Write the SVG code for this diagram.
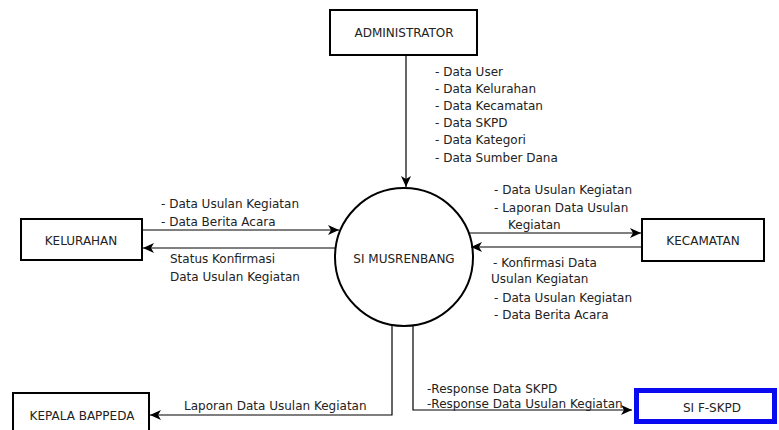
<svg xmlns="http://www.w3.org/2000/svg" width="779" height="430" viewBox="0 0 779 430">
<defs>
<marker id="ah" markerWidth="12" markerHeight="10" refX="11" refY="5" orient="auto" markerUnits="userSpaceOnUse">
<path d="M0,0 L11,5 L0,10 L3,5 Z" fill="#000"/>
</marker>
<style>
text{font-family:"DejaVu Sans",Verdana,sans-serif;font-size:12px;fill:#222}
.c{text-anchor:middle}
.box{fill:#fff;stroke:#000;stroke-width:2}
.ln{fill:none;stroke:#000;stroke-width:1.2}
</style>
</defs>
<rect width="779" height="430" fill="#fff"/>
<g id="connectors">
<path class="ln" d="M406,55 V187" marker-end="url(#ah)"/>
<path class="ln" d="M142,230 H339" marker-end="url(#ah)"/>
<path class="ln" d="M336,248 H143" marker-end="url(#ah)"/>
<path class="ln" d="M469,233 H641" marker-end="url(#ah)"/>
<path class="ln" d="M642,247 H471" marker-end="url(#ah)"/>
<path class="ln" d="M392,325 V415 H150" marker-end="url(#ah)"/>
<path class="ln" d="M413,325 V410 H632" marker-end="url(#ah)"/>
<g id="labels">
<text x="435" y="76">- Data User</text>
<text x="435" y="93">- Data Kelurahan</text>
<text x="435" y="110">- Data Kecamatan</text>
<text x="435" y="127">- Data SKPD</text>
<text x="435" y="144">- Data Kategori</text>
<text x="435" y="162">- Data Sumber Dana</text>
<text x="161" y="208">- Data Usulan Kegiatan</text>
<text x="161" y="226">- Data Berita Acara</text>
<text x="170" y="263">Status Konfirmasi</text>
<text x="170" y="281">Data Usulan Kegiatan</text>
<text x="494" y="194">- Data Usulan Kegiatan</text>
<text x="494" y="212">- Laporan Data Usulan</text>
<text x="508" y="229">Kegiatan</text>
<text x="493" y="267">- Konfirmasi Data</text>
<text x="491" y="283">Usulan Kegiatan</text>
<text x="494" y="302">- Data Usulan Kegiatan</text>
<text x="494" y="319">- Data Berita Acara</text>
<text x="184" y="410">Laporan Data Usulan Kegiatan</text>
<text x="427" y="393">-Response Data SKPD</text>
<text x="427" y="408">-Response Data Usulan Kegiatan</text>
</g>
</g>
<g id="administrator">
<rect class="box" x="330" y="10" width="147" height="45"/>
<text class="c" x="404" y="37">ADMINISTRATOR</text>
</g>
<g id="si-musrenbang">
<circle cx="404" cy="257" r="69" fill="none" stroke="#000" stroke-width="2"/>
<text class="c" x="404" y="263">SI MUSRENBANG</text>
</g>
<g id="kelurahan">
<rect class="box" x="21" y="219" width="121" height="41"/>
<text class="c" x="81" y="245">KELURAHAN</text>
</g>
<g id="kecamatan">
<rect class="box" x="642" y="219" width="122" height="42"/>
<text class="c" x="703" y="245">KECAMATAN</text>
</g>
<g id="kepala-bappeda">
<rect class="box" x="13" y="393" width="136" height="40"/>
<text class="c" x="82" y="420">KEPALA BAPPEDA</text>
</g>
<g id="si-f-skpd">
<rect x="636.5" y="390.5" width="138" height="31" fill="#fff" stroke="#0a0af0" stroke-width="5"/>
<text class="c" x="712" y="412">SI F-SKPD</text>
</g>
</svg>
